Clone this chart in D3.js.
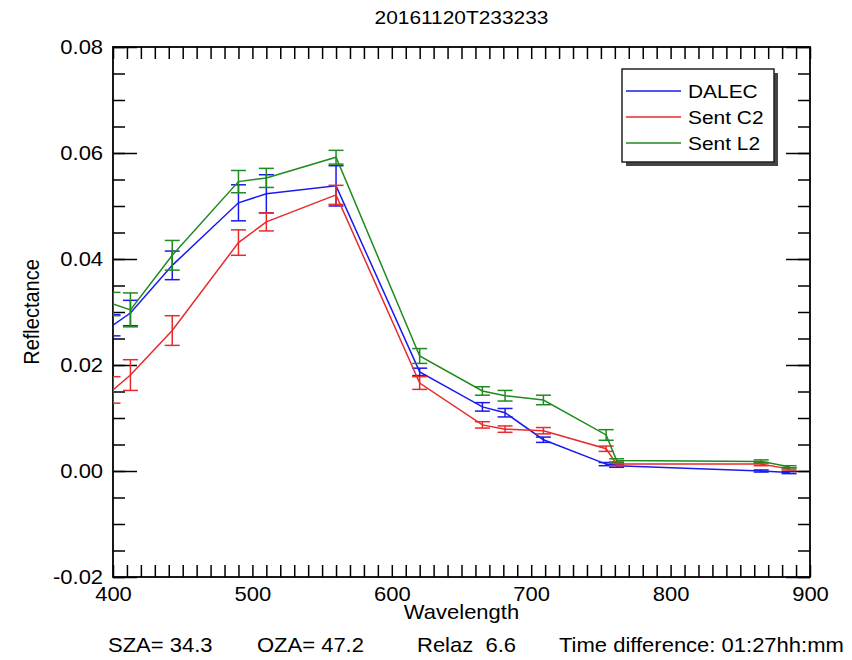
<!DOCTYPE html>
<html>
<head>
<meta charset="utf-8">
<script src="https://cdn.jsdelivr.net/npm/d3@7"></script>
<style>
  body { margin: 0; background: #fff; }
  text { font-family: "Liberation Sans", Arial, sans-serif; fill: #000; }
</style>
</head>
<body>
<div id="chart"></div>
<script>
// Chart dimensions and plot box
const width = 852;
const height = 660;
const margin = { left: 113, right: 42, top: 47, bottom: 83 };
const SX = 1.1; // horizontal stretch of the text in the original

// Wavelengths (nm) of the bands
const bands = [400, 412.5, 442.5, 490, 510, 560, 620, 665, 681.25, 708.75, 753.75, 761.25, 865, 885];

// Series values and their error bars
const dalec    = [0.0275, 0.0298, 0.0388, 0.0506, 0.0523, 0.0538, 0.0187, 0.0121, 0.0110, 0.0059, 0.0013, 0.0010, 0.0000, -0.0003];
const dalecErr = [0.0020, 0.0024, 0.0027, 0.0034, 0.0036, 0.0038, 0.0007, 0.0008, 0.0008, 0.0005, 0.0003, 0.0003, 0.0002, 0.0002];
const sentC2    = [0.0153, 0.0181, 0.0265, 0.0431, 0.0470, 0.0521, 0.0166, 0.0087, 0.0079, 0.0076, 0.0042, 0.0013, 0.0013, 0.0004];
const sentC2Err = [0.0025, 0.0029, 0.0028, 0.0024, 0.0017, 0.0018, 0.0012, 0.0006, 0.0006, 0.0006, 0.0005, 0.0003, 0.0003, 0.0002];
const sentL2    = [0.0315, 0.0304, 0.0407, 0.0546, 0.0553, 0.0592, 0.0217, 0.0151, 0.0142, 0.0134, 0.0068, 0.0020, 0.0018, 0.0008];
const sentL2Err = [0.0022, 0.0032, 0.0028, 0.0021, 0.0018, 0.0013, 0.0014, 0.0008, 0.0010, 0.0009, 0.0010, 0.0003, 0.0003, 0.0002];

const seriesNames = ["DALEC", "Sent C2", "Sent L2"];
const seriesColors = ["#1a1aee", "#e82a2a", "#1f8a1f"];

// Tick values
const xTicks = d3.range(400, 901, 10);
const xLabels = [400, 500, 600, 700, 800, 900];
const yMajor = [-0.02, 0, 0.02, 0.04, 0.06, 0.08];
const yMinor = d3.range(0, 21).map(i => -0.02 + i * 0.005);

const title = "20161120T233233";
const footer = [
  { text: "SZA= 34.3", x: 108 },
  { text: "OZA= 47.2", x: 257 },
  { text: "Relaz  6.6", x: 417 },
  { text: "Time difference: 01:27hh:mm", x: 559 }
];

const x = d3.scaleLinear().domain([400, 900]).range([margin.left, width - margin.right]);
const y = d3.scaleLinear().domain([-0.02, 0.08]).range([height - margin.bottom, margin.top]);

const svg = d3.select("#chart").append("svg")
  .attr("width", width)
  .attr("height", height);

function label(x0, y0, str, anchor, size, rotate) {
  return svg.append("text")
    .attr("transform", `translate(${x0},${y0}) scale(${SX},1)` + (rotate ? " rotate(-90)" : ""))
    .attr("text-anchor", anchor)
    .attr("font-size", size)
    .style("white-space", "pre")
    .text(str);
}

// Axes (ticks on all four sides, pointing inwards)
function styleAxis(g) {
  g.select(".domain").remove();
  g.selectAll(".tick line").attr("stroke", "#000").attr("stroke-width", 1.5);
  g.selectAll(".tick text")
    .attr("font-size", 20)
    .attr("font-family", '"Liberation Sans", Arial, sans-serif')
    .attr("transform", `scale(${SX},1)`);
}

svg.append("g")
  .attr("transform", `translate(0,${y(-0.02)})`)
  .call(d3.axisBottom(x).tickValues(xTicks).tickSize(-12).tickPadding(20)
    .tickFormat(d => xLabels.includes(d) ? d : ""))
  .call(styleAxis)
  .call(g => g.selectAll(".tick text").attr("y", 8).attr("dy", "0.8em"));

svg.append("g")
  .attr("transform", `translate(0,${y(0.08)})`)
  .call(d3.axisTop(x).tickValues(xTicks).tickSize(-12).tickFormat(""))
  .call(styleAxis);

svg.append("g")
  .attr("transform", `translate(${x(400)},0)`)
  .call(d3.axisLeft(y).tickValues(yMajor).tickSize(-24).tickPadding(9)
    .tickFormat(d => d.toFixed(2).replace("-0.00", "0.00")))
  .call(styleAxis);

svg.append("g")
  .attr("transform", `translate(${x(400)},0)`)
  .call(d3.axisLeft(y).tickValues(yMinor).tickSize(-12).tickFormat(""))
  .call(styleAxis);

svg.append("g")
  .attr("transform", `translate(${x(900)},0)`)
  .call(d3.axisRight(y).tickValues(yMajor).tickSize(-24).tickFormat(""))
  .call(styleAxis);

svg.append("g")
  .attr("transform", `translate(${x(900)},0)`)
  .call(d3.axisRight(y).tickValues(yMinor).tickSize(-12).tickFormat(""))
  .call(styleAxis);

// Plot frame
svg.append("rect")
  .attr("x", x(400)).attr("y", y(0.08))
  .attr("width", x(900) - x(400)).attr("height", y(-0.02) - y(0.08))
  .attr("fill", "none").attr("stroke", "#000").attr("stroke-width", 1.8);

// Clip for data
svg.append("clipPath").attr("id", "plot-clip")
  .append("rect")
  .attr("x", x(400)).attr("y", y(0.08))
  .attr("width", x(900) - x(400)).attr("height", y(-0.02) - y(0.08));

const series = [
  { name: seriesNames[0], color: seriesColors[0], values: dalec, errors: dalecErr },
  { name: seriesNames[1], color: seriesColors[1], values: sentC2, errors: sentC2Err },
  { name: seriesNames[2], color: seriesColors[2], values: sentL2, errors: sentL2Err }
];

const line = d3.line()
  .x(d => x(d.w))
  .y(d => y(d.v));

const capHalf = 7.5;

const dataG = svg.append("g").attr("clip-path", "url(#plot-clip)");

series.forEach(s => {
  const pts = bands.map((w, i) => ({ w, v: s.values[i], e: s.errors[i] }));
  const g = dataG.append("g").attr("stroke", s.color).attr("fill", "none").attr("stroke-width", 1.5);

  g.append("path").attr("d", line(pts));

  const bars = g.selectAll("g.err").data(pts).join("g").attr("class", "err");
  bars.append("line")
    .attr("x1", d => x(d.w)).attr("x2", d => x(d.w))
    .attr("y1", d => y(d.v - d.e)).attr("y2", d => y(d.v + d.e));
  bars.append("line")
    .attr("x1", d => x(d.w) - capHalf).attr("x2", d => x(d.w) + capHalf)
    .attr("y1", d => y(d.v + d.e)).attr("y2", d => y(d.v + d.e));
  bars.append("line")
    .attr("x1", d => x(d.w) - capHalf).attr("x2", d => x(d.w) + capHalf)
    .attr("y1", d => y(d.v - d.e)).attr("y2", d => y(d.v - d.e));
});

// Legend
const lg = { x: 622, y: 69, w: 152, h: 93 };
svg.append("rect")
  .attr("x", lg.x + 4).attr("y", lg.y + 4).attr("width", lg.w).attr("height", lg.h)
  .attr("fill", "#444");
svg.append("rect")
  .attr("x", lg.x).attr("y", lg.y).attr("width", lg.w).attr("height", lg.h)
  .attr("fill", "#fff").attr("stroke", "#222").attr("stroke-width", 1.5);

series.forEach((s, i) => {
  const ly = 91 + i * 26;
  svg.append("line")
    .attr("x1", 626).attr("x2", 681).attr("y1", ly).attr("y2", ly)
    .attr("stroke", s.color).attr("stroke-width", 1.5);
  label(688, ly + 7, s.name, "start", 19);
});

// Titles and footer
label((x(400) + x(900)) / 2, 24, title, "middle", 19);
label((x(400) + x(900)) / 2, 619, "Wavelength", "middle", 20);
label(39, 312, "Reflectance", "middle", 20, true);
footer.forEach(f => label(f.x, 652, f.text, "start", 20));
</script>
</body>
</html>
